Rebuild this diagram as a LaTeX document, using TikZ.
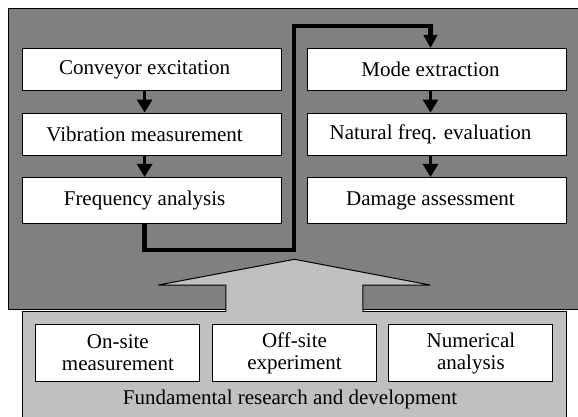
\documentclass[tikz,border=0pt]{standalone}
\usepackage{fontspec}
\setmainfont{Liberation Serif}
\usetikzlibrary{arrows.meta}
\definecolor{darkbg}{HTML}{808080}
\definecolor{lightbg}{HTML}{C0C0C0}
\begin{document}
\begin{tikzpicture}[x=1pt,y=-1pt,
  flowbox/.style={draw=black,line width=1pt,fill=white,minimum width=259pt,minimum height=42.5pt,inner sep=0pt},
  srcbox/.style={draw=black,line width=1pt,fill=white,minimum width=164pt,minimum height=57.5pt,inner sep=0pt,align=center,font=\fontsize{21}{22}\selectfont},
  lbl/.style={inner sep=0pt,font=\fontsize{21}{24}\selectfont},
  smallarr/.style={line width=3pt,-{Triangle[width=15pt,length=13pt]}},
  thickarr/.style={line width=4.3pt,line join=miter,-{Triangle[width=13.5pt,length=13pt]}},
  edge/.style={line width=1.2pt,line join=miter}]
\useasboundingbox (0,0) rectangle (578,416);
% dark panel
\fill[darkbg] (8.3,8.3) rectangle (585,309.4);
\draw[edge] (225.8,309.4) -- (8.3,309.4) -- (8.3,8.3) -- (585,8.3);
\draw[edge] (362.8,309.4) -- (585,309.4);
% light panel
\fill[lightbg] (22.3,311.6) rectangle (566.3,425);
\draw[edge] (225.8,311.6) -- (22.3,311.6) -- (22.3,425);
\draw[edge] (362.8,311.6) -- (566.3,311.6) -- (566.3,425);
% big hollow arrow
\fill[lightbg] (225.8,312.5) -- (225.8,285) -- (158.4,285) -- (294.5,259.3) -- (430.2,285) -- (362.8,285) -- (362.8,312.5) -- cycle;
\draw[line width=1pt,line join=miter] (225.8,311.6) -- (225.8,285) -- (158.4,285) -- (294.5,259.3) -- (430.2,285) -- (362.8,285) -- (362.8,311.6);
% left column
\node[flowbox] (c1) at (152.1,69.6) {};
\node[flowbox] (c2) at (152.1,134.3) {};
\node[flowbox,minimum height=46.5pt] (c3) at (152.1,200.7) {};
\node[lbl] (t1) at ([xshift=-7.5pt]c1.center) {Conveyor excitation};
\node[lbl] (t2) at ([xshift=-7.5pt]c2.center) {Vibration measurement};
\node[lbl] (t3) at ([xshift=-7.5pt]c3.center) {Frequency analysis};
% right column
\node[flowbox] (m1) at (437.1,69.6) {};
\node[flowbox] (m2) at (437.1,134.3) {};
\node[flowbox,minimum height=46.5pt] (m3) at (437.1,200.7) {};
\node[lbl] (u1) at ([xshift=-6.6pt]m1.center) {Mode extraction};
\node[lbl] (u2) at ([xshift=-6.6pt]m2.center) {Natural freq. evaluation};
\node[lbl] (u3) at ([xshift=-6.6pt]m3.center) {Damage assessment};
% small arrows
\draw[smallarr] (c1.south -| t1) -- (c2.north -| t2);
\draw[smallarr] (c2.south -| t2) -- (c3.north -| t3);
\draw[smallarr] (m1.south -| u1) -- (m2.north -| u2);
\draw[smallarr] (m2.south -| u2) -- (m3.north -| u3);
% thick connector
\coordinate (k1) at (144.6,250.2);
\coordinate (k2) at (294.2,250.2);
\coordinate (k3) at (294.2,26);
\draw[thickarr] (c3.south -| t3) -- (k1) -- (k2) -- (k3) -- (k3 -| u1) -- (m1.north -| u1);
% bottom boxes
\node[srcbox] (s1) at (117.9,353) {On-site\\measurement};
\node[srcbox] (s2) at (294.5,353) {Off-site\\experiment};
\node[srcbox] (s3) at (470.9,353) {Numerical\\analysis};
\node[lbl] (f) at (290,399.5) {Fundamental research and development};
\end{tikzpicture}
\end{document}
